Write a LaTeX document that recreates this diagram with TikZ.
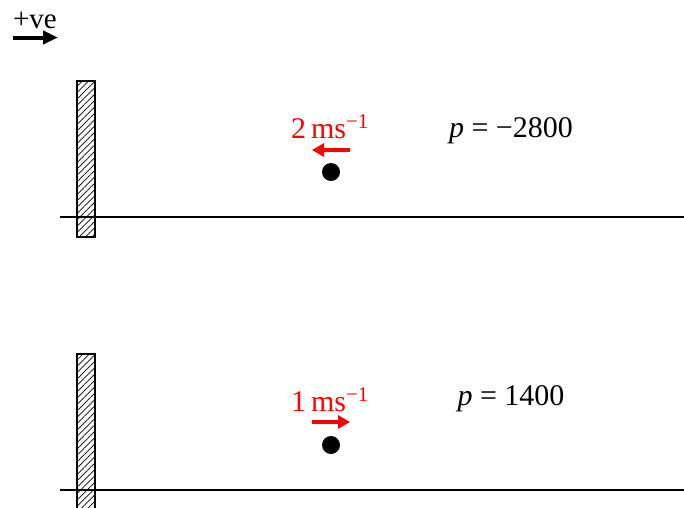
\documentclass[tikz,border=0pt]{standalone}
\usepackage{fontspec}
\setmainfont{Liberation Serif}
\usetikzlibrary{arrows.meta,patterns.meta}
\tikzset{
  wall/.style={draw=black,line width=2pt,pattern={Lines[angle=45,distance=4.5pt,line width=0.7pt]}},
  ground/.style={line width=2pt},
  ball/.style={circle,fill=black,inner sep=0pt,minimum size=18pt},
  vel/.style={red,line width=4pt,-{Triangle[length=12pt,width=13pt]}},
  vlabel/.style={red,inner sep=0pt,anchor=base,font=\fontsize{30}{34}\selectfont},
  plabel/.style={inner sep=0pt,anchor=base,font=\fontsize{30}{34}\selectfont},
}
\begin{document}
\begin{tikzpicture}[x=1pt,y=-1pt]
\useasboundingbox (0,0) rectangle (684,507);
% positive direction
\node[inner sep=0pt,anchor=base,font=\fontsize{29}{32}\selectfont] (ve) at (35,28) {+ve};
\coordinate (ves) at (13,37.5);
\coordinate (vee) at (58,37.5);
\draw[line width=4pt,-{Triangle[length=15pt,width=13pt]}] (ves) -- (vee);
% top scene
\draw[wall] (77,81) rectangle (95,237);
\coordinate (g1a) at (60,217);
\coordinate (g1b) at (684,217);
\draw[ground] (g1a) -- (g1b);
\node[ball] (b1) at (331,172) {};
\coordinate (a1s) at (350,150);
\coordinate (a1e) at (312,150);
\draw[vel] (a1s) -- (a1e);
\node[vlabel] (l1) at (330,138) {2\,ms\textsuperscript{−1}};
\node[plabel] (p1) at (511,137) {\textit{p} = −2800};
% bottom scene
\draw[wall] (77,354) rectangle (95,510);
\coordinate (g2a) at (60,490);
\coordinate (g2b) at (684,490);
\draw[ground] (g2a) -- (g2b);
\node[ball] (b2) at (331,445) {};
\coordinate (a2s) at (312,422);
\coordinate (a2e) at (350,422);
\draw[vel] (a2s) -- (a2e);
\node[vlabel] (l2) at (330,411) {1\,ms\textsuperscript{−1}};
\node[plabel] (p2) at (511,405) {\textit{p} = 1400};
\end{tikzpicture}
\end{document}
